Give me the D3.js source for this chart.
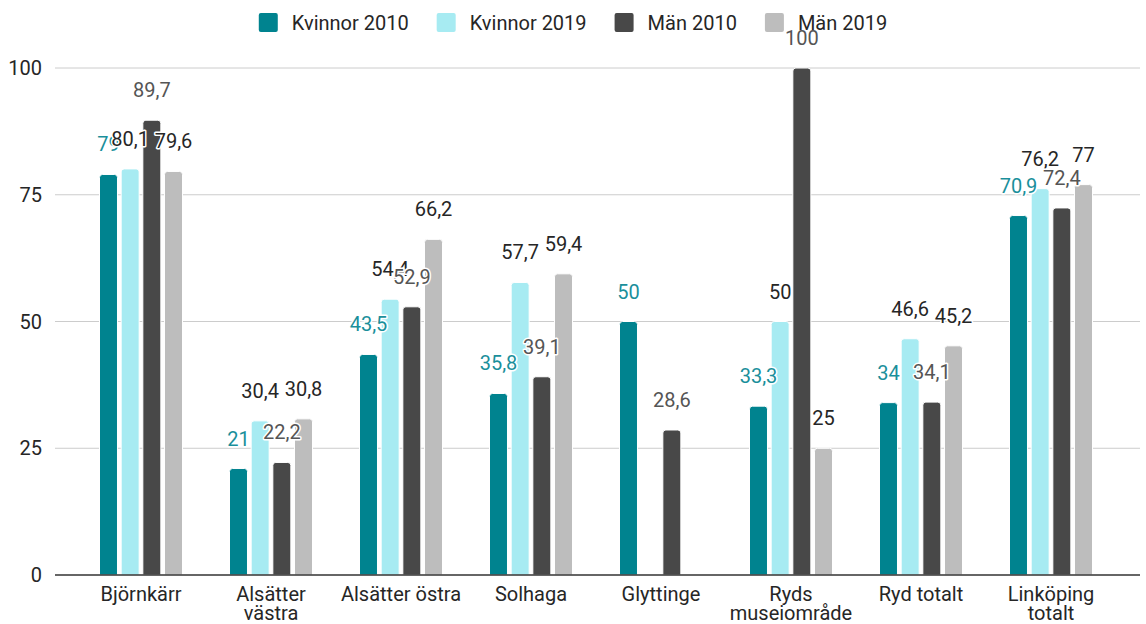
<!DOCTYPE html>
<html>
<head>
<meta charset="utf-8">
<script src="https://cdn.jsdelivr.net/npm/d3@7"></script>
<style>
  body { margin: 0; background: #fff; }
  text { font-family: Roboto, "Noto Sans", sans-serif; }
</style>
</head>
<body>
<div id="chart"></div>
<script>
// data
let categories = [["Björnkärr"], ["Alsätter", "västra"], ["Alsätter östra"], ["Solhaga"],
  ["Glyttinge"], ["Ryds", "museiområde"], ["Ryd totalt"], ["Linköping", "totalt"]];
let seriesNames = ["Kvinnor 2010", "Kvinnor 2019", "Män 2010", "Män 2019"];
let kvinnor2010 = [79, 21, 43.5, 35.8, 50, 33.3, 34, 70.9];
let kvinnor2019 = [80.1, 30.4, 54.4, 57.7, null, 50, 46.6, 76.2];
let man2010 = [89.7, 22.2, 52.9, 39.1, 28.6, 100, 34.1, 72.4];
let man2019 = [79.6, 30.8, 66.2, 59.4, null, 25, 45.2, 77];
let yTicks = [0, 25, 50, 75, 100];

let colors = ["#00838f", "#a7ebf2", "#484848", "#bdbdbd"];
let labelColors = ["#1a8f9b", "#262626", "#555555", "#262626"];

let W = 1146, H = 624;
let gridLeft = 55, gridRight = 1140;

let svg = d3.select("#chart").append("svg")
  .attr("width", W)
  .attr("height", H);

let allSeries = [kvinnor2010, kvinnor2019, man2010, man2019];

let x = d3.scaleBand()
  .domain(d3.range(categories.length))
  .range([76, 1116]);

let groupW = 83;
let xInner = d3.scaleBand()
  .domain(d3.range(seriesNames.length))
  .range([(x.bandwidth() - groupW) / 2, (x.bandwidth() + groupW) / 2])
  .paddingInner(0.17);

let y = d3.scaleLinear()
  .domain([0, 100])
  .range([575, 68]);

// gridlines
svg.append("g")
  .selectAll("line")
  .data(yTicks.filter(d => d > 0))
  .enter()
  .append("line")
  .attr("x1", gridLeft)
  .attr("x2", gridRight)
  .attr("y1", d => y(d))
  .attr("y2", d => y(d))
  .attr("stroke", "#cccccc")
  .attr("stroke-width", 1);

// y tick labels
svg.append("g")
  .selectAll("text")
  .data(yTicks)
  .enter()
  .append("text")
  .attr("x", 42)
  .attr("y", d => y(d))
  .attr("dy", "0.35em")
  .attr("text-anchor", "end")
  .attr("font-size", "20px")
  .attr("fill", "#262626")
  .text(d => d);

// bars, rounded on top
function barPath(x0, w, yTop, yBot, r) {
  r = Math.min(r, (yBot - yTop) / 2, w / 2);
  return "M" + x0 + "," + yBot +
    "V" + (yTop + r) +
    "Q" + x0 + "," + yTop + " " + (x0 + r) + "," + yTop +
    "H" + (x0 + w - r) +
    "Q" + (x0 + w) + "," + yTop + " " + (x0 + w) + "," + (yTop + r) +
    "V" + yBot + "Z";
}

let barData = [];
allSeries.forEach((vals, s) => {
  vals.forEach((v, i) => {
    if (v != null) barData.push({s: s, i: i, v: v});
  });
});

svg.append("g")
  .selectAll("path")
  .data(barData)
  .enter()
  .append("path")
  .attr("d", d => barPath(x(d.i) + xInner(d.s), xInner.bandwidth(), y(d.v), y(0), 3))
  .attr("fill", d => colors[d.s])
  .attr("stroke", "#fff")
  .attr("stroke-width", 1);

// baseline
svg.append("line")
  .attr("x1", gridLeft)
  .attr("x2", gridRight)
  .attr("y1", y(0))
  .attr("y2", y(0))
  .attr("stroke", "#333")
  .attr("stroke-width", 1.5);

// value labels
svg.append("g")
  .selectAll("text")
  .data(barData)
  .enter()
  .append("text")
  .attr("x", d => x(d.i) + xInner(d.s) + xInner.bandwidth() / 2)
  .attr("y", d => y(d.v) - 30)
  .attr("dy", "0.35em")
  .attr("text-anchor", "middle")
  .attr("font-size", "20px")
  .attr("fill", d => labelColors[d.s])
  .attr("stroke", "#fff")
  .attr("stroke-width", 3)
  .attr("stroke-linejoin", "round")
  .attr("paint-order", "stroke")
  .text(d => String(d.v).replace(".", ","));

// category labels
let cat = svg.append("g")
  .selectAll("text")
  .data(categories)
  .enter()
  .append("text")
  .attr("x", (d, i) => x(i) + x.bandwidth() / 2)
  .attr("y", 601)
  .attr("text-anchor", "middle")
  .attr("font-size", "20px")
  .attr("fill", "#262626");
cat.selectAll("tspan")
  .data(d => d)
  .enter()
  .append("tspan")
  .attr("x", function() { return d3.select(this.parentNode).attr("x"); })
  .attr("dy", (d, j) => j == 0 ? 0 : 19)
  .text(d => d);

// legend
let legend = svg.append("g");
let items = legend.selectAll("g")
  .data(seriesNames)
  .enter()
  .append("g");
items.append("rect")
  .attr("width", 19)
  .attr("height", 19)
  .attr("y", 13)
  .attr("rx", 2)
  .attr("fill", (d, i) => colors[i]);
items.append("text")
  .attr("x", 33)
  .attr("y", 23)
  .attr("dy", "0.35em")
  .attr("font-size", "20px")
  .attr("fill", "#262626")
  .text(d => d);

let lx = 0;
let widths = [];
items.each(function() {
  let w = 33 + this.querySelector("text").getComputedTextLength();
  widths.push(w);
});
let total = d3.sum(widths) + 28 * (widths.length - 1);
lx = 573 - total / 2;
items.attr("transform", (d, i) => {
  let t = "translate(" + lx + ",0)";
  lx += widths[i] + 28;
  return t;
});
</script>
</body>
</html>
